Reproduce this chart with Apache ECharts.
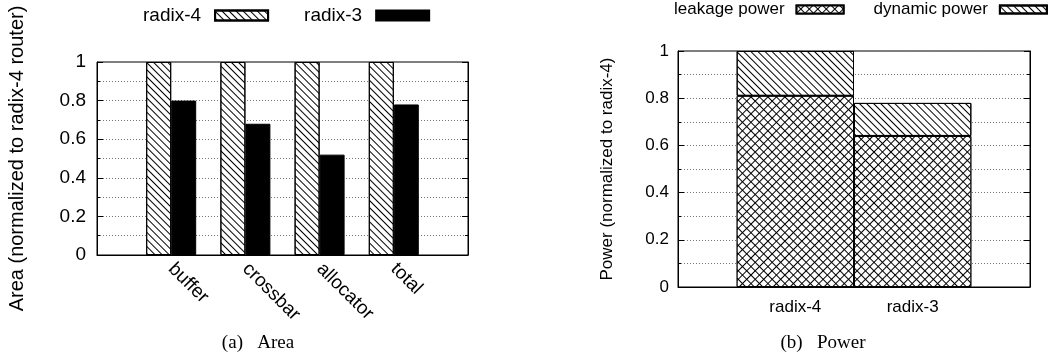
<!DOCTYPE html>
<html>
<head>
<meta charset="utf-8">
<script src="https://cdn.jsdelivr.net/npm/echarts@6/dist/echarts.min.js"></script>
<style>
html, body { margin: 0; padding: 0; background: #fff; }
#chart { width: 1050px; height: 360px; }
</style>
</head>
<body>
<div id="chart"></div>
<script>
// (a) area
const areaCategories = ['buffer', 'crossbar', 'allocator', 'total'];
const areaRadix4 = [1, 1, 1, 1];
const areaRadix3 = [0.8, 0.68, 0.52, 0.78];

// (b) power, stacked
const powerCategories = ['radix-4', 'radix-3'];
const leakagePower = [0.81, 0.64];
const dynamicPower = [0.19, 0.14];

const sans = 'Liberation Sans';

// gnuplot leaves an empty half slot at each end
const padCats = c => ['', ...c, ''];
const padVals = v => ['-', ...v, '-'];

const hatch = {
    symbol: 'rect', symbolSize: 1, color: '#000',
    dashArrayX: [1, 0], dashArrayY: [1, 4], rotation: Math.PI / 4
};
const cross = {
    symbol: 'rect', symbolSize: 1, color: '#fff',
    dashArrayX: [5, 1], dashArrayY: [5, 1], rotation: Math.PI / 4
};

function valueAxis(grid, fontSize, margin, name, nameSize, nameGap, mirror) {
    return {
        gridIndex: grid,
        type: 'value',
        min: 0,
        max: 1,
        interval: 0.2,
        position: mirror ? 'right' : 'left',
        name: mirror ? '' : name,
        nameLocation: 'middle',
        nameGap: nameGap,
        nameTextStyle: { fontFamily: sans, fontSize: nameSize, color: '#000' },
        axisLine: { show: true, lineStyle: { color: '#000', width: 1 } },
        axisTick: { show: true, inside: true, length: 6, lineStyle: { color: '#000' } },
        minorTick: { show: true, splitNumber: 2, length: 3, lineStyle: { color: '#000' } },
        axisLabel: {
            show: !mirror, margin: margin,
            fontFamily: sans, fontSize: fontSize, color: '#000'
        },
        splitLine: { show: !mirror, lineStyle: { type: [1, 2], color: '#777', width: 1 } },
        minorSplitLine: { show: !mirror, lineStyle: { type: [1, 2], color: '#777', width: 1 } }
    };
}

const chart = echarts.init(document.getElementById('chart'));
chart.setOption({
    animation: false,
    backgroundColor: '#fff',
    grid: [
        { left: 97, right: 582, top: 62, bottom: 105, show: true, borderColor: '#000', borderWidth: 1 },
        { left: 678, right: 20, top: 51, bottom: 73, show: true, borderColor: '#000', borderWidth: 1 }
    ],
    legend: [
        {
            data: ['radix-4', 'radix-3'],
            left: 143, top: 6, padding: 0,
            align: 'right', icon: 'rect',
            itemWidth: 53, itemHeight: 10, itemGap: 35,
            textStyle: { fontFamily: sans, fontSize: 19, color: '#000', padding: [0, 9, 0, 0] }
        },
        {
            data: ['leakage power', 'dynamic power'],
            left: 674, top: 1, width: 420, padding: 0,
            align: 'right', icon: 'rect',
            itemWidth: 47, itemHeight: 8, itemGap: 29,
            textStyle: { fontFamily: sans, fontSize: 17, color: '#000', padding: [0, 7, 0, 0] }
        }
    ],
    xAxis: [
        {
            gridIndex: 0,
            type: 'category',
            data: padCats(areaCategories),
            boundaryGap: false,
            axisLine: { lineStyle: { color: '#000' } },
            axisTick: { show: false },
            axisLabel: {
                interval: 0, rotate: -45, margin: 11,
                fontFamily: sans, fontSize: 19, color: '#000'
            }
        },
        {
            gridIndex: 1,
            type: 'category',
            data: padCats(powerCategories),
            boundaryGap: false,
            axisLine: { lineStyle: { color: '#000' } },
            axisTick: { show: false },
            axisLabel: {
                interval: 0, margin: 12,
                fontFamily: sans, fontSize: 17, color: '#000'
            }
        }
    ],
    yAxis: [
        valueAxis(0, 19, 11, 'Area (normalized to radix-4 router)', 20, 70, false),
        valueAxis(0, 19, 11, '', 20, 0, true),
        valueAxis(1, 17, 9, 'Power (normalized to radix-4)', 17, 62, false),
        valueAxis(1, 17, 9, '', 17, 0, true)
    ],
    series: [
        {
            name: 'radix-4', type: 'bar', xAxisIndex: 0, yAxisIndex: 0,
            barWidth: 25, barGap: '0%',
            data: padVals(areaRadix4),
            itemStyle: { color: '#fff', borderColor: '#000', borderWidth: 1, decal: hatch }
        },
        {
            name: 'radix-3', type: 'bar', xAxisIndex: 0, yAxisIndex: 0,
            barWidth: 25, barGap: '0%',
            data: padVals(areaRadix3),
            itemStyle: { color: '#000', borderColor: '#000', borderWidth: 1 }
        },
        {
            name: 'leakage power', type: 'bar', stack: 'power', xAxisIndex: 1, yAxisIndex: 2,
            barWidth: '100%',
            data: padVals(leakagePower),
            itemStyle: { color: '#000', borderColor: '#000', borderWidth: 1, decal: cross }
        },
        {
            name: 'dynamic power', type: 'bar', stack: 'power', xAxisIndex: 1, yAxisIndex: 2,
            barWidth: '100%',
            data: padVals(dynamicPower),
            itemStyle: { color: '#fff', borderColor: '#000', borderWidth: 1, decal: hatch }
        }
    ],
    graphic: [
        {
            type: 'text', x: 258, y: 334,
            style: { text: '(a)\u2002 Area', font: '19px "Liberation Serif"', fill: '#000', textAlign: 'center' }
        },
        {
            type: 'text', x: 823, y: 334,
            style: { text: '(b)\u2002 Power', font: '19px "Liberation Serif"', fill: '#000', textAlign: 'center' }
        }
    ]
});
window.addEventListener('resize', () => {
    chart.resize();
});
</script>
</body>
</html>
